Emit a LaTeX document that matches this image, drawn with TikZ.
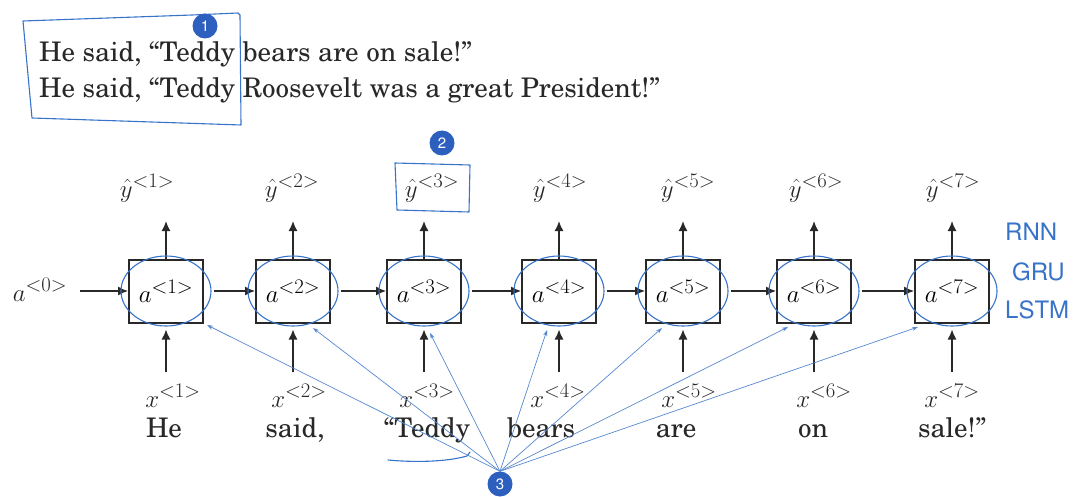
\documentclass[tikz,border=0pt]{standalone}
\usepackage[T1]{fontenc}
\usepackage{newcent}
\renewcommand{\sfdefault}{phv}
\usetikzlibrary{arrows.meta,positioning}

\definecolor{penblue}{RGB}{55,115,200}
\definecolor{badgeblue}{RGB}{45,95,190}
\definecolor{inkgray}{RGB}{40,40,40}

\tikzset{
    cell/.style={draw=inkgray, line width=2pt, minimum width=74pt, minimum height=63pt, inner sep=0pt, font=\fontsize{28}{30}\selectfont},
    lbl/.style={inner sep=1pt, text=inkgray, font=\fontsize{28}{30}\selectfont},
    word/.style={inner sep=0pt, text=inkgray, font=\fontsize{27}{30}\selectfont},
    flow/.style={inkgray, line width=1.4pt, -{Latex[length=10pt,width=9pt]}},
    pen/.style={penblue, line width=1.1pt, line cap=round, line join=round},
    pointer/.style={penblue!85, line width=0.7pt, -{Stealth[length=6pt,width=4pt]}},
    badge/.style={circle, fill=badgeblue, text=white, inner sep=0pt, minimum size=25pt, font=\sffamily\fontsize{15}{15}\selectfont},
    scribble/.style={penblue, inner sep=0pt, anchor=west, font=\sffamily\fontsize{24}{24}\selectfont}
}

\begin{document}
\begin{tikzpicture}[x=1pt,y=-1pt]
    \useasboundingbox (0,0) rectangle (1078,497);

    % Example sentences
    \node[word, anchor=base west] (s1) at (39,62) {He said, ``Teddy bears are on sale!''};
    \node[word, anchor=base west] (s2) at (39,98) {He said, ``Teddy Roosevelt was a great President!''};

    % Hidden states
    \node[lbl, anchor=base] (a0) at (40,301) {$a^{<0>}$};
    \foreach \i/\x in {1/166, 2/293, 3/424, 4/559, 5/683, 6/814, 7/952} {
        \node[cell] (a\i) at (\x,291) {$a^{<\i>}$};
    }

    % Outputs and inputs
    \foreach \i/\x in {1/147, 2/292, 3/432, 4/560, 5/688, 6/816, 7/953} {
        \node[lbl, anchor=base] (y\i) at (\x,197) {$\hat{y}^{<\i>}$};
    }
    \foreach \i/\x in {1/173, 2/299, 3/427, 4/558, 5/689, 6/824, 7/952} {
        \node[lbl, anchor=base] (x\i) at (\x,407) {$x^{<\i>}$};
    }

    % Words under the inputs
    \foreach \i/\x/\w in {1/164/He, 2/295/{said,}, 3/427/{``Teddy}, 4/541/bears, 5/676/are, 6/813/on, 7/952/{sale!''}} {
        \node[word, anchor=base] (w\i) at (\x,437) {\w};
    }

    % Vertical arrows
    \foreach \i in {1,...,7} {
        \draw[flow, shorten >=18pt] (a\i.north) -- (a\i.north |- y\i.south);
        \draw[flow, shorten <=11pt, shorten >=6pt] (a\i.south |- x\i.north) -- (a\i.south);
    }

    % Horizontal arrows
    \draw[flow, shorten <=12pt] (a0.east |- a1) -- (a1.west);
    \foreach \i/\j in {1/2, 2/3, 3/4, 4/5, 5/6, 6/7} {
        \draw[flow, shorten <=10pt] (a\i.east) -- (a\j.west);
    }

    % Pen marks: circles round the cells
    \foreach \i in {1,...,7} {
        \draw[pen] (a\i) ellipse [x radius=45, y radius=35];
    }

    % Pen marks: box round the sentence start, box round y<3>, underline
    \draw[pen] (23,21) -- (192,15) -- (238,13) -- (240,15) -- (241,125) -- (32,118) -- cycle;
    \draw[pen] (395,163) -- (470,165) -- (469,212) -- (397,210) -- cycle;
    \draw[pen] (388,460) .. controls (420,463) and (450,461) .. (467,456) -- (470,452);

    % Numbered badges
    \node[badge] (b1) at (205,26) {1};
    \node[badge] (b2) at (442,143) {2};
    \node[badge] (b3) at (500,484) {3};

    % Pointers from badge 3 to the cells
    \foreach \i/\px/\py in {1/207/325, 2/313/328, 3/430/333, 4/547/330, 5/662/328, 6/788/327, 7/918/327} {
        \coordinate (p\i) at (\px,\py);
        \draw[pointer] (b3.north) -- (p\i);
    }

    % Scribbled notes
    \node[scribble] (rnn) at (1005,232) {RNN};
    \node[scribble] (gru) at (1012,272) {GRU};
    \node[scribble] (lstm) at (1005,310) {LSTM};
\end{tikzpicture}
\end{document}
